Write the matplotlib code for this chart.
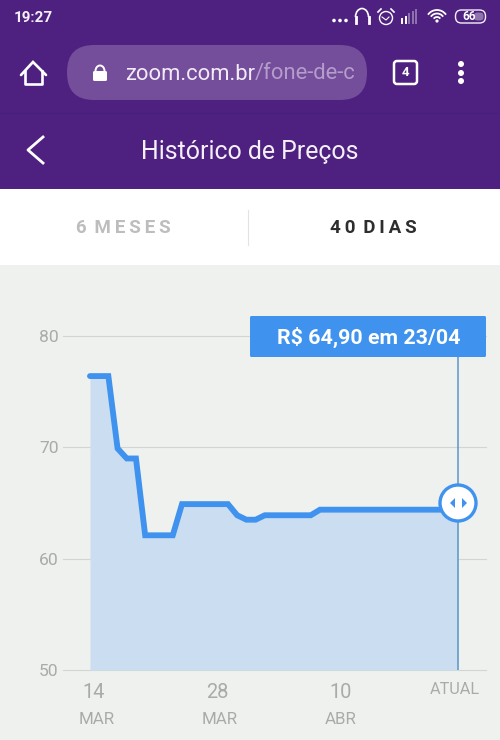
import matplotlib
matplotlib.use("Agg")
import matplotlib.pyplot as plt
from matplotlib.patches import FancyBboxPatch, Rectangle, Circle, Polygon, Arc
from matplotlib.transforms import blended_transform_factory

plt.rcParams['font.family'] = ['Roboto', 'DejaVu Sans']

# price history, days counted from 14 MAR
days = [0, 2, 3, 4, 5, 6, 9, 10, 15, 16, 17, 18, 19, 24, 25, 40]
prices = [76.4, 76.4, 69.9, 69.0, 69.0, 62.1, 62.1, 64.9, 64.9, 63.9, 63.5, 63.5, 63.9, 63.9, 64.4, 64.4]
y_ticks = [50, 60, 70, 80]
x_tick_pos = [0.4, 13.8, 27.2, 39.6]
x_tick_labels = ["14", "28", "10", "ATUAL"]
month_pos = [0.75, 14.1, 27.2]
month_labels = ["MAR", "MAR", "ABR"]
tag_text = "R$ 64,90 em 23/04"
page_title = "Histórico de Preços"
tab_labels = ["6\u2009\u2009M\u2009E\u2009S\u2009E\u2009S", "4\u20090\u2009\u2009D\u2009I\u2009A\u2009S"]

PURPLE = "#4E2180"
BLUE = "#3F92EE"
BG = "#EFF1EF"
GREY = "#A9ABA9"

W, H = 500, 740
fig = plt.figure(figsize=(W / 100, H / 100), dpi=100, facecolor=BG)


# pixel canvas for the app screen around the chart
ui = fig.add_axes([0, 0, 1, 1], zorder=0)
ui.set_xlim(0, W)
ui.set_ylim(H, 0)
ui.axis("off")

ui.add_patch(Rectangle((0, 0), W, 189, color=PURPLE, lw=0))
ui.add_patch(Rectangle((0, 189), W, 76, color="white", lw=0))
ui.plot([248, 248], [210, 245], color="#E3E3E3", lw=0.8)

# status bar
ui.text(14, 18, "19:27", color="#F4F0F8", fontsize=11, fontweight="bold", va="center", ha="left")
for x in [334, 340, 346]:
    ui.add_patch(Circle((x, 20.5), 1.8, color="white", lw=0))
ui.add_patch(Arc((362, 17), 13, 17, theta1=180, theta2=360, color="white", lw=1.2))
ui.plot([355.5, 355.5], [17, 23], color="white", lw=2)
ui.plot([368.5, 368.5], [17, 23], color="white", lw=2)
ui.add_patch(Circle((386, 18), 6.5, fill=False, ec="white", lw=1))
ui.plot([382, 386, 389], [17, 20, 17], color="white", lw=0.8)
ui.plot([378, 381], [12, 9], color="white", lw=1.2)
ui.plot([391, 394], [9, 12], color="white", lw=1.2)
for i, x in enumerate([402, 405.5, 409, 412.5, 416]):
    top = 21 - 2.2 * (i + 1)
    ui.plot([x, x], [top, 23], color="white" if i < 2 else "#8F74AE", lw=1.4)
for r in [11, 7.5, 4]:
    ui.add_patch(Arc((437, 21), 2 * r, 2 * r, theta1=215, theta2=325, color="white", lw=1.3))
ui.add_patch(Circle((437, 21), 1.6, color="white", lw=0))
ui.add_patch(FancyBboxPatch((455.5, 10), 30, 13, boxstyle="round,pad=0,rounding_size=6", fc="none", ec="#F4F0F8", lw=1))
ui.add_patch(FancyBboxPatch((474, 12.5), 9.5, 8, boxstyle="round,pad=0,rounding_size=3.5", fc="#8F74AE", ec="none"))
ui.text(469, 17, "66", color="white", fontsize=8.5, fontweight="bold", ha="center", va="center")

# url bar
ui.plot([21, 33, 46], [75, 62, 75], color="white", lw=1.9, solid_capstyle="round", solid_joinstyle="miter")
ui.plot([25, 25, 42, 42], [71, 84, 84, 71], color="white", lw=1.9, solid_joinstyle="round")
ui.add_patch(FancyBboxPatch((67, 45), 300, 55, boxstyle="round,pad=0,rounding_size=27", fc="#744D9B", ec="none"))
ui.add_patch(FancyBboxPatch((93, 71), 14, 10, boxstyle="round,pad=0,rounding_size=1.5", fc="white", ec="none"))
ui.add_patch(Arc((100, 71), 9, 11, theta1=180, theta2=360, color="white", lw=1.4))
ui.text(125, 74, "zoom.com.br", color="#F1EBF6", fontsize=15.8, va="center", ha="left")
ui.text(255, 74, "/fone-de-c", color="#B49CCB", fontsize=15.8, va="center", ha="left", clip_on=True,
        clip_path=Rectangle((0, 0), 352, H, transform=ui.transData))
ui.add_patch(FancyBboxPatch((394, 61), 23, 23, boxstyle="round,pad=0,rounding_size=3", fc="none", ec="white", lw=1.8))
ui.text(405.5, 73, "4", color="white", fontsize=9.5, fontweight="bold", ha="center", va="center")
for y in [64, 73, 81]:
    ui.add_patch(Circle((461, y), 3, color="white", lw=0))

# title bar
ui.plot([0, W], [113, 113], color="#47207A", lw=1)
ui.plot([43, 28, 43], [137, 150, 163], color="white", lw=2)
ui.text(250, 151.5, page_title, color="#F4F0F8", fontsize=17.9, ha="center", va="center")

# tabs
ui.text(123.5, 228, tab_labels[0], color="#BDBDBD", fontsize=13.5, fontweight="bold", ha="center", va="center")
ui.text(373, 228, tab_labels[1], color="#2E2E2E", fontsize=13.5, fontweight="bold", ha="center", va="center")

# chart itself
left, right, top, bottom = 63, 486, 336, 670
ax = fig.add_axes([left / W, 1 - bottom / H, (right - left) / W, (bottom - top) / H], zorder=1)
ax.patch.set_alpha(0)
ax.set_xlim(-2.93, 43.04)
ax.set_ylim(50, 80)
for s in ax.spines.values():
    s.set_visible(False)
ax.set_yticks(y_ticks)
ax.set_yticklabels([str(v) for v in y_ticks])
ax.tick_params(axis="y", length=0, pad=3, labelsize=12.6, labelcolor=GREY)
ax.tick_params(axis="x", length=0, pad=9, labelsize=14.4, labelcolor=GREY)
ax.set_xticks(x_tick_pos)
ax.set_xticklabels(x_tick_labels)
ax.get_xticklabels()[-1].set_fontsize(11.7)
ax.grid(axis="y", color="#D2D5D2", lw=0.8, clip_on=False)
ax.set_axisbelow(True)
for gl in ax.get_ygridlines():
    gl.set_clip_on(False)

ax.fill_between(days, prices, 50, color="#CBDDF0", lw=0, zorder=2)
ax.plot(days, prices, color=BLUE, lw=4.2, solid_capstyle="round", solid_joinstyle="miter", zorder=3)

trans = blended_transform_factory(ax.transData, ax.transAxes)
for d, m in zip(month_pos, month_labels):
    ax.text(d, -0.148, m, transform=trans, color=GREY, fontsize=12.2, ha="center", va="center", clip_on=False)

# marker for current price
ax.axvline(days[-1], ymin=0, ymax=1.0, color="#5C96C8", lw=1.1, zorder=4)
ui2 = fig.add_axes([0, 0, 1, 1], zorder=2)
ui2.set_xlim(0, W)
ui2.set_ylim(H, 0)
ui2.axis("off")
ui2.add_patch(FancyBboxPatch((250, 316), 236, 41, boxstyle="round,pad=0,rounding_size=1.5", fc=BLUE, ec="none"))
ui2.text(368.5, 337, tag_text, color="white", fontsize=15.4, fontweight="bold", ha="center", va="center")
ui2.add_patch(Circle((458, 503), 18, fc="white", ec=BLUE, lw=2.4))
ui2.add_patch(Polygon([[455, 498], [455, 508], [450, 503]], closed=True, color=BLUE, lw=0))
ui2.add_patch(Polygon([[462, 498], [462, 508], [467, 503]], closed=True, color=BLUE, lw=0))

fig.savefig("out.png", dpi=100, facecolor=fig.get_facecolor())
